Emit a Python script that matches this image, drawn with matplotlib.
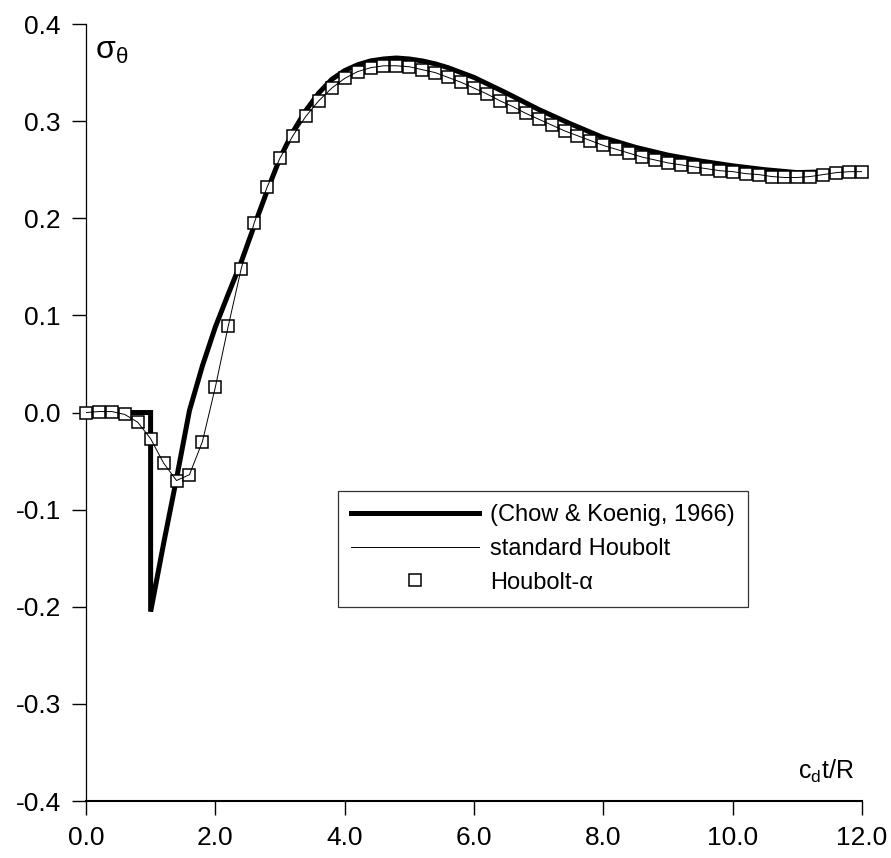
import matplotlib
matplotlib.use("Agg")
import matplotlib.pyplot as plt

plt.rcParams['font.family'] = ['Liberation Sans', 'DejaVu Sans']
plt.rcParams['mathtext.fontset'] = 'custom'
plt.rcParams['mathtext.rm'] = 'Liberation Sans'

# exact solution (Chow & Koenig, 1966)
exact_t = [0.0, 0.5, 0.999, 1.0, 1.2, 1.4, 1.6, 1.8, 2.0, 2.2, 2.4, 2.6, 2.8, 3.0,
           3.2, 3.4, 3.6, 3.8, 4.0, 4.2, 4.4, 4.6, 4.8, 5.0, 5.2, 5.4, 5.6, 5.8,
           6.0, 6.5, 7.0, 7.5, 8.0, 8.5, 9.0, 9.5, 10.0, 10.5, 11.0, 11.5, 12.0]
exact_s = [0.0, 0.0, 0.0, -0.205, -0.135, -0.068, 0.002, 0.048, 0.088, 0.122, 0.155,
           0.192, 0.228, 0.262, 0.289, 0.311, 0.329, 0.343, 0.352, 0.358, 0.362,
           0.364, 0.365, 0.364, 0.362, 0.359, 0.355, 0.350, 0.345, 0.329, 0.312,
           0.297, 0.283, 0.273, 0.265, 0.259, 0.254, 0.250, 0.247, 0.248, 0.249]

# Houbolt-alpha / standard Houbolt, dt = 0.2
houbolt_t = [0.0, 0.2, 0.4, 0.6, 0.8, 1.0, 1.2, 1.4, 1.6, 1.8, 2.0, 2.2, 2.4, 2.6,
             2.8, 3.0, 3.2, 3.4, 3.6, 3.8, 4.0, 4.2, 4.4, 4.6, 4.8, 5.0, 5.2, 5.4,
             5.6, 5.8, 6.0, 6.2, 6.4, 6.6, 6.8, 7.0, 7.2, 7.4, 7.6, 7.8, 8.0, 8.2,
             8.4, 8.6, 8.8, 9.0, 9.2, 9.4, 9.6, 9.8, 10.0, 10.2, 10.4, 10.6, 10.8,
             11.0, 11.2, 11.4, 11.6, 11.8, 12.0]
houbolt_s = [0.0, 0.001, 0.001, -0.002, -0.010, -0.027, -0.052, -0.070, -0.064,
             -0.030, 0.026, 0.089, 0.148, 0.195, 0.232, 0.262, 0.285, 0.305, 0.321,
             0.334, 0.344, 0.351, 0.355, 0.357, 0.357, 0.356, 0.353, 0.350, 0.345,
             0.340, 0.334, 0.328, 0.321, 0.315, 0.308, 0.302, 0.296, 0.290, 0.285,
             0.280, 0.275, 0.271, 0.267, 0.263, 0.260, 0.257, 0.255, 0.253, 0.251,
             0.249, 0.248, 0.246, 0.245, 0.243, 0.242, 0.242, 0.243, 0.245, 0.247,
             0.248, 0.248]

fig = plt.figure(figsize=(8.91, 8.58), dpi=100)
ax = fig.add_axes([0.0965, 0.0664, 0.871, 0.9056])

ax.plot(exact_t, exact_s, color='black', lw=3.6, solid_joinstyle='miter',
        label='(Chow & Koenig, 1966)', zorder=2)
ax.plot(houbolt_t, houbolt_s, linestyle='none', marker='s', ms=8, mfc='white',
        mec='black', mew=1.1, label='Houbolt-\u03b1', zorder=3, clip_on=False)
ax.plot(houbolt_t, houbolt_s, color='black', lw=0.7, label='standard Houbolt', zorder=4)

ax.set_xlim(0, 12)
ax.set_ylim(-0.4, 0.4)
ax.set_xticks([0, 2, 4, 6, 8, 10, 12])
ax.set_xticklabels(['0.0', '2.0', '4.0', '6.0', '8.0', '10.0', '12.0'])
ax.set_yticks([-0.4, -0.3, -0.2, -0.1, 0.0, 0.1, 0.2, 0.3, 0.4])
ax.set_yticklabels(['-0.4', '-0.3', '-0.2', '-0.1', '0.0', '0.1', '0.2', '0.3', '0.4'])
ax.tick_params(direction='out', length=10, width=1, labelsize=19, pad=8)

ax.spines['top'].set_visible(False)
ax.spines['right'].set_visible(False)
ax.spines['left'].set_linewidth(0.9)
ax.spines['bottom'].set_linewidth(1.5)

ax.text(0.012, 0.985, r'$\mathregular{\sigma_\theta}$', transform=ax.transAxes,
        fontsize=23, va='top', ha='left')
ax.text(0.99, 0.02, r'$\mathregular{c_dt/R}$', transform=ax.transAxes,
        fontsize=18, va='bottom', ha='right')

h, l = ax.get_legend_handles_labels()
order = [0, 2, 1]
leg = ax.legend([h[i] for i in order], [l[i] for i in order],
                loc='upper left', bbox_to_anchor=(0.325, 0.399), borderaxespad=0,
                fontsize=17, handlelength=5.4, handletextpad=0.47, borderpad=0.55,
                labelspacing=0.5, fancybox=False, frameon=True, markerscale=1.15)
leg.get_frame().set_edgecolor('black')
leg.get_frame().set_linewidth(0.9)

fig.savefig('out.png', dpi=100)
